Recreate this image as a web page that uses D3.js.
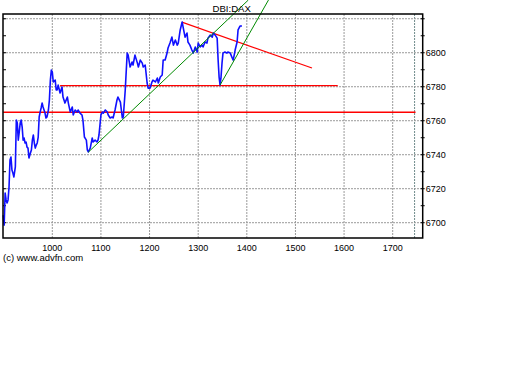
<!DOCTYPE html>
<html>
<head>
<meta charset="utf-8">
<script src="https://cdn.jsdelivr.net/npm/d3@7"></script>
<style>
  html, body { margin: 0; padding: 0; background: #fff; }
  svg { display: block; }
  text { font-family: "Liberation Sans", Arial, sans-serif; fill: #000; }
</style>
</head>
<body>
<svg id="chart" width="512" height="384"></svg>
<script>
const title = "DBI:DAX";
const copyright = "(c) www.advfn.com";

const times = [899,901,903,905,907,909,911,913,915,917,919,921,924,926,928,930,932,934,936,938,940,942,944,946,948,950,952,955,957,959,961,963,965,967,969,971,973,975,977,979,981,983,985,987,989,992,994,996,998,1000,1002,1006,1008,1010,1012,1016,1020,1022,1026,1031,1033,1037,1041,1043,1047,1051,1053,1057,1061,1063,1066,1070,1072,1074,1078,1082,1084,1088,1092,1094,1096,1100,1103,1105,1109,1113,1115,1119,1123,1125,1129,1133,1135,1140,1144,1146,1150,1154,1156,1160,1164,1166,1170,1175,1177,1181,1185,1187,1191,1195,1197,1201,1205,1207,1212,1216,1218,1222,1226,1228,1232,1236,1238,1242,1246,1249,1253,1257,1259,1263,1267,1269,1273,1277,1279,1283,1287,1290,1294,1298,1300,1304,1308,1310,1314,1318,1320,1325,1329,1331,1335,1339,1341,1343,1345,1347,1349,1351,1355,1359,1361,1366,1370,1372,1376,1380,1382,1386,1390];
const prices = [6704.5,6698.6,6717.5,6713.4,6711.6,6713.4,6721.0,6736.9,6738.6,6731.0,6729.2,6726.9,6732.8,6760.4,6758.6,6748.6,6753.4,6758.6,6760.4,6756.3,6748.6,6749.8,6746.9,6747.5,6744.5,6743.9,6738.1,6741.0,6742.8,6748.6,6751.6,6746.9,6743.9,6745.7,6746.9,6750.4,6762.2,6765.1,6767.5,6770.4,6768.1,6766.3,6764.5,6761.6,6762.2,6766.3,6772.2,6783.9,6789.8,6788.6,6782.8,6783.9,6778.1,6778.1,6781.0,6776.3,6779.8,6773.9,6770.4,6773.9,6770.4,6765.1,6768.1,6763.4,6766.3,6765.1,6766.3,6764.5,6763.4,6760.4,6750.4,6748.6,6742.8,6741.6,6743.9,6749.8,6747.5,6748.6,6747.5,6748.6,6751.6,6763.4,6765.1,6764.5,6766.3,6765.1,6763.4,6761.6,6762.2,6761.6,6766.3,6772.2,6773.9,6771.0,6761.6,6762.2,6778.1,6799.8,6798.6,6791.6,6794.5,6792.8,6798.6,6793.9,6791.6,6795.7,6793.9,6791.6,6792.8,6782.2,6779.2,6779.2,6782.8,6783.9,6782.8,6785.1,6782.2,6785.7,6786.9,6795.7,6795.7,6799.8,6802.8,6805.7,6809.2,6804.5,6807.5,6804.5,6805.7,6813.4,6818.1,6815.1,6809.2,6811.6,6806.3,6804.5,6801.6,6799.8,6803.4,6800.4,6805.7,6803.4,6804.5,6803.4,6806.3,6805.7,6808.6,6810.4,6809.2,6811.6,6810.4,6808.6,6795.7,6785.7,6781.0,6785.7,6793.9,6799.8,6800.4,6799.8,6800.4,6799.8,6796.9,6795.7,6801.6,6806.3,6813.4,6815.7,6815.7];

const xTicks = [1000,1100,1200,1300,1400,1500,1600,1700];
const xEndMarker = 1745;
const yTicks = [6700,6720,6740,6760,6780,6800,6820];
const yLabels = [6700,6720,6740,6760,6780,6800];
const yMinor = [6700,6710,6720,6730,6740,6750,6760,6770,6780,6790,6800,6810,6820];

// drawn lines: [x1, y1, x2, y2]
const redLines = [
  [899, 6765, 1747, 6765],
  [1016, 6780.7, 1587, 6780.7],
  [1266.5, 6818, 1534, 6791]
];
const greenLines = [
  [1074, 6741.5, 1403, 6831],
  [1345, 6781, 1444.5, 6831]
];

const svg = d3.select("#chart");
const L = 3, R = 422.7, T = 14, B = 238;
const x = d3.scaleLinear().domain([898.6, 1761.7]).range([L, R]);
const y = d3.scaleLinear().domain([6691, 6822.8]).range([B, T]);

// grid
const grid = svg.append("g");
grid.selectAll(".gx").data(xTicks).enter().append("line")
  .attr("x1", d => x(d)).attr("x2", d => x(d)).attr("y1", T).attr("y2", B)
  .attr("stroke", "#9a9a9a").attr("stroke-width", 1).attr("stroke-dasharray", "2,1");
grid.append("line")
  .attr("x1", x(xEndMarker)).attr("x2", x(xEndMarker)).attr("y1", T).attr("y2", B)
  .attr("stroke", "#6f8a8a").attr("stroke-width", 1).attr("stroke-dasharray", "2,1");
grid.selectAll(".gy").data(yTicks).enter().append("line")
  .attr("x1", L).attr("x2", R).attr("y1", d => y(d)).attr("y2", d => y(d))
  .attr("stroke", "#9a9a9a").attr("stroke-width", 1).attr("stroke-dasharray", "2,1");

// minor ticks left and right
svg.selectAll(".tl").data(yMinor).enter().append("line")
  .attr("x1", L).attr("x2", L + 3).attr("y1", d => y(d)).attr("y2", d => y(d))
  .attr("stroke", "#000").attr("stroke-width", 1);
svg.selectAll(".tr").data(yMinor).enter().append("line")
  .attr("x1", R - 2).attr("x2", R + 2).attr("y1", d => y(d)).attr("y2", d => y(d))
  .attr("stroke", "#000").attr("stroke-width", 1);

// red lines
svg.selectAll(".red").data(redLines).enter().append("line")
  .attr("x1", d => x(d[0])).attr("y1", d => y(d[1]))
  .attr("x2", d => x(d[2])).attr("y2", d => y(d[3]))
  .attr("stroke", "#ff0000").attr("stroke-width", (d, i) => i === 0 ? 1.6 : 1.2);

// price line
const series = times.map((t, i) => [t, prices[i]]);
svg.append("path").datum(series)
  .attr("d", d3.line().x(d => x(d[0])).y(d => y(d[1])))
  .attr("fill", "none").attr("stroke", "#1010ff").attr("stroke-width", 1.6)
  .attr("stroke-linejoin", "round");

// green lines
svg.selectAll(".green").data(greenLines).enter().append("line")
  .attr("x1", d => x(d[0])).attr("y1", d => y(d[1]))
  .attr("x2", d => x(d[2])).attr("y2", d => y(d[3]))
  .attr("stroke", "#008a00").attr("stroke-width", 1);

// frame
svg.append("rect").attr("x", L).attr("y", T).attr("width", R - L).attr("height", B - T)
  .attr("fill", "none").attr("stroke", "#000").attr("stroke-width", 1.5);

// labels
svg.selectAll(".yl").data(yLabels).enter().append("text")
  .attr("x", R + 3).attr("y", d => y(d) + 3.5)
  .attr("font-size", "9px").text(d => d);
svg.selectAll(".xl").data(xTicks).enter().append("text")
  .attr("x", d => x(d)).attr("y", 251).attr("text-anchor", "middle")
  .attr("font-size", "9px").text(d => d);

svg.append("text").attr("x", 212.5).attr("y", 12).attr("font-size", "9.6px").text(title);
svg.append("text").attr("x", 3).attr("y", 261).attr("font-size", "9.5px").text(copyright);
</script>
</body>
</html>
